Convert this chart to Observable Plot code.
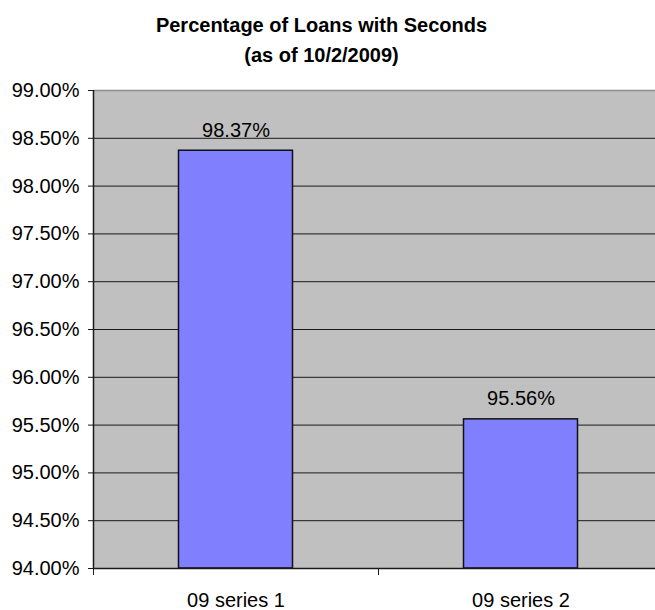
<!DOCTYPE html>
<html>
<head>
<meta charset="utf-8">
<script src="https://cdn.jsdelivr.net/npm/d3@7"></script>
<script src="https://cdn.jsdelivr.net/npm/@observablehq/plot@0.6"></script>
<style>
  html, body { margin: 0; padding: 0; background: white; overflow: hidden; }
  #title { width: 643px; height: 70px; box-sizing: border-box; padding-top: 10px; text-align: center;
           font: bold 20px "Liberation Sans", Arial, sans-serif; line-height: 30px; color: #000; }
</style>
</head>
<body>
<div id="title">Percentage of Loans with Seconds<br>(as of 10/2/2009)</div>
<div id="chart"></div>
<script>
const categories = ["09 series 1", "09 series 2"];
const values = [98.37, 95.56];
const yTicks = [94, 94.5, 95, 95.5, 96, 96.5, 97, 97.5, 98, 98.5, 99];
const gridTicks = [94.5, 95, 95.5, 96, 96.5, 97, 97.5, 98, 98.5];
const valueLabels = values.map(v => v.toFixed(2) + "%");

const rows = categories.map((c, i) => ({cat: c, i, value: values[i], label: valueLabels[i]}));
const fmt = d => d.toFixed(2) + "%";

const chart = Plot.plot({
  width: 655,
  height: 540,
  marginTop: 20,
  marginBottom: 42,
  marginLeft: 93,
  marginRight: -8,
  style: {fontFamily: '"Liberation Sans", Arial, sans-serif', fontSize: "20px", color: "#000", background: "white", overflow: "hidden"},
  x: {domain: [0, categories.length], axis: null},
  y: {domain: [94, 99], axis: null},
  marks: [
    Plot.frame({fill: "#C0C0C0", stroke: null}),
    Plot.ruleY(gridTicks, {stroke: "#1a1a1a", strokeWidth: 1}),
    Plot.ruleY([99], {stroke: "#8c8c8c", strokeWidth: 1.5}),
    Plot.rectY(rows, {x1: d => d.i + 0.3, x2: d => d.i + 0.7, y1: 94, y2: "value", fill: "#8080FF", stroke: "#111", strokeWidth: 1.5}),
    Plot.ruleY([94], {stroke: "#1a1a1a", strokeWidth: 1.5}),
    Plot.ruleX([0], {stroke: "#1a1a1a", strokeWidth: 1.5}),
    Plot.axisY({ticks: yTicks, tickFormat: fmt, tickSize: 5, tickPadding: 9, fontSize: 20, stroke: "#1a1a1a", label: null}),
    Plot.axisX({ticks: d3.range(categories.length + 1), tickSize: 7, tickFormat: () => "", stroke: "#1a1a1a", label: null}),
    Plot.text(rows, {x: d => d.i + 0.5, y: "value", text: "label", dy: -14, lineAnchor: "bottom", fontSize: 20, fill: "#000"}),
    Plot.text(rows, {x: d => d.i + 0.5, y: 94, text: "cat", dy: 38, lineAnchor: "bottom", fontSize: 20, fill: "#000"})
  ]
});
document.getElementById("chart").appendChild(chart);
</script>
</body>
</html>
